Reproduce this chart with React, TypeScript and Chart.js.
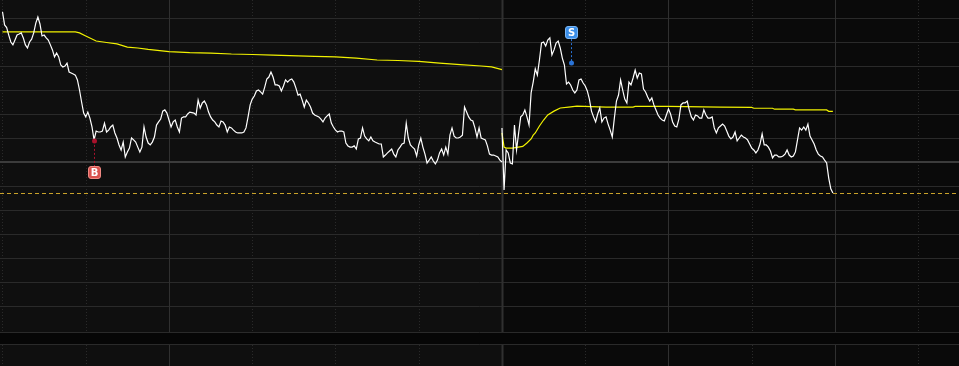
import React, { useEffect, useRef } from "react";
import { Chart, registerables } from "chart.js";

Chart.register(...registerables);

const W = 959;
const H = 366;

// Day 1 intraday % change vs previous close, one value per minute (0..240)
const day1Pct = [
  6.26, 5.71, 5.6, 5.29, 5.0, 4.88, 5.08, 5.29, 5.33, 5.38,
  5.17, 4.88, 4.75, 5.0, 5.12, 5.38, 5.79, 6.04, 5.75, 5.25,
  5.29, 5.17, 5.08, 4.88, 4.67, 4.38, 4.54, 4.38, 4.04, 3.96,
  4.0, 4.12, 3.75, 3.71, 3.67, 3.62, 3.42, 3.0, 2.5, 2.04,
  1.88, 2.08, 1.83, 1.46, 0.92, 1.29, 1.25, 1.25, 1.29, 1.62,
  1.25, 1.33, 1.46, 1.54, 1.21, 1.0, 0.71, 0.5, 0.83, 0.21,
  0.42, 0.58, 1.0, 0.92, 0.83, 0.62, 0.42, 0.62, 1.46, 1.04,
  0.79, 0.71, 0.83, 1.04, 1.54, 1.67, 1.79, 2.12, 2.17, 2.04,
  1.75, 1.46, 1.67, 1.75, 1.46, 1.25, 1.83, 1.88, 1.88, 2.0,
  2.08, 2.06, 2.04, 1.96, 2.58, 2.25, 2.46, 2.54, 2.38, 2.08,
  1.88, 1.75, 1.67, 1.54, 1.46, 1.71, 1.67, 1.54, 1.25, 1.46,
  1.42, 1.33, 1.25, 1.21, 1.21, 1.21, 1.25, 1.42, 1.88, 2.38,
  2.62, 2.75, 2.96, 3.0, 2.92, 2.83, 3.12, 3.46, 3.54, 3.75,
  3.54, 3.21, 3.21, 3.17, 2.96, 3.17, 3.42, 3.33, 3.42, 3.46,
  3.33, 3.08, 2.79, 2.83, 2.58, 2.29, 2.58, 2.46, 2.29, 2.04,
  1.96, 1.92, 1.88, 1.79, 1.67, 1.83, 1.92, 2.0, 1.62, 1.46,
  1.33, 1.25, 1.29, 1.29, 1.25, 0.79, 0.67, 0.62, 0.62, 0.67,
  0.54, 0.96, 1.0, 1.42, 1.08, 0.96, 0.88, 1.04, 0.88, 0.83,
  0.79, 0.75, 0.75, 0.21, 0.29, 0.38, 0.46, 0.54, 0.33, 0.21,
  0.5, 0.62, 0.75, 0.79, 1.62, 1.0, 0.71, 0.62, 0.54, 0.25,
  0.71, 1.0, 0.62, 0.33, -0.04, 0.08, 0.21, 0.04, -0.08, 0.08,
  0.38, 0.54, 0.29, 0.62, 0.33, 1.12, 1.42, 1.08, 1.0, 1.0,
  1.04, 1.12, 2.29, 2.08, 1.88, 1.75, 1.71, 1.42, 1.04, 1.42,
  1.0, 0.96, 0.92, 0.67, 0.33, 0.29, 0.29, 0.25, 0.21, 0.08,
  0.0,
];

// Day 2 intraday % change, one value per minute (0..159)
const day2Pct = [
  1.42, -1.17, 0.5, 0.38, -0.04, -0.08, 1.54, 0.5, 1.21, 1.88,
  1.96, 2.17, 1.88, 1.54, 2.88, 3.33, 3.88, 3.62, 4.25, 4.96,
  5.0, 4.83, 5.08, 5.17, 4.46, 4.67, 4.96, 5.04, 4.75, 4.33,
  4.04, 3.25, 3.33, 3.21, 3.0, 2.88, 3.0, 3.42, 3.46, 3.29,
  3.17, 2.96, 2.62, 2.12, 1.88, 1.67, 2.0, 2.25, 1.67, 1.83,
  1.88, 1.58, 1.33, 1.04, 1.83, 2.54, 2.79, 3.42, 3.0, 2.62,
  2.46, 3.33, 3.21, 3.5, 3.83, 3.5, 3.71, 3.67, 3.04, 2.92,
  2.71, 2.54, 2.67, 2.38, 2.17, 1.96, 1.83, 1.75, 1.71, 1.96,
  2.21, 2.0, 1.67, 1.5, 1.46, 1.79, 2.38, 2.46, 2.46, 2.54,
  2.17, 1.88, 1.75, 1.96, 1.92, 1.83, 1.83, 2.17, 1.96, 1.83,
  1.83, 1.88, 1.42, 1.21, 1.42, 1.5, 1.58, 1.5, 1.29, 1.08,
  0.96, 1.04, 1.25, 0.88, 1.0, 1.12, 1.04, 1.0, 0.92, 0.75,
  0.58, 0.5, 0.38, 0.5, 0.75, 1.17, 0.71, 0.71, 0.62, 0.46,
  0.17, 0.29, 0.29, 0.21, 0.21, 0.25, 0.33, 0.5, 0.29, 0.21,
  0.25, 0.42, 0.92, 1.42, 1.33, 1.46, 1.33, 1.58, 1.08, 0.92,
  0.75, 0.5, 0.33, 0.25, 0.21, 0.08, -0.04, -0.67, -1.12, -1.29,
];

// Moving average (yellow), sampled minutes and values
const ma1Minutes = [0, 35, 37, 40, 45, 50, 55, 60, 65, 70, 80, 90, 100, 110, 120, 130, 150, 160, 170, 180, 190, 200, 210, 220, 230, 235, 240];
const ma1Pct = [5.42, 5.42, 5.38, 5.25, 5.04, 4.98, 4.92, 4.79, 4.75, 4.69, 4.6, 4.56, 4.54, 4.5, 4.48, 4.45, 4.4, 4.38, 4.33, 4.25, 4.23, 4.19, 4.12, 4.06, 4.0, 3.96, 3.85];
const ma2Minutes = [0, 1, 2, 5, 10, 12, 14, 15, 16, 18, 20, 22, 25, 28, 32, 36, 50, 63, 64, 80, 105, 120, 121, 130, 131, 140, 141, 156, 157, 159];
const ma2Pct = [1.21, 0.62, 0.58, 0.58, 0.65, 0.79, 0.96, 1.12, 1.21, 1.5, 1.75, 1.96, 2.12, 2.25, 2.29, 2.33, 2.29, 2.29, 2.32, 2.32, 2.29, 2.28, 2.24, 2.24, 2.2, 2.2, 2.17, 2.17, 2.11, 2.11];

const sessionMinutes = 240;
const xMin = -1.2;
const xMax = 459.6;
const yMin = -7.083;
const yMax = 6.75;

const gridMinutes = [0, 40, 80, 120, 160, 200, 240, 280, 320, 360, 400, 440];
const solidGridMinutes = [80, 320, 400];
const gridPcts = [-6, -5, -4, -3, -2, -1, 1, 2, 3, 4, 5, 6];
const prevClosePct = 0;

const signalMinutes = [44, 273];
const signalPcts = [0.88, 4.12];
const signalLabels = ["B", "S"];

const gridPlugin = {
  id: "tradingBg",
  beforeDatasetsDraw(chart: any) {
    const { ctx, chartArea, scales } = chart;
    const x = scales.x;
    const y = scales.y;
    const sep = Math.round(x.getPixelForValue(sessionMinutes));
    const mainBottom = Math.round(chartArea.bottom);
    ctx.save();
    ctx.fillStyle = "#0f0f0f";
    ctx.fillRect(0, 0, sep, H);
    ctx.fillStyle = "#0a0a0a";
    ctx.fillRect(sep, 0, W - sep, H);
    ctx.fillStyle = "#060606";
    ctx.fillRect(0, mainBottom, W, 12);

    // horizontal grid
    ctx.lineWidth = 1;
    ctx.strokeStyle = "#2a2a2a";
    gridPcts.forEach((p) => {
      const py = Math.round(y.getPixelForValue(p)) + 0.5;
      ctx.beginPath();
      ctx.moveTo(0, py);
      ctx.lineTo(W, py);
      ctx.stroke();
    });
    // band borders
    [mainBottom + 0.5, mainBottom + 12.5].forEach((py) => {
      ctx.beginPath();
      ctx.moveTo(0, py);
      ctx.lineTo(W, py);
      ctx.stroke();
    });

    // vertical grid
    gridMinutes.forEach((m) => {
      const px = Math.round(x.getPixelForValue(m)) + 0.5;
      const solid = solidGridMinutes.includes(m) || m === sessionMinutes;
      ctx.strokeStyle = solid ? "#303030" : "#2a2a2a";
      ctx.lineWidth = m === sessionMinutes ? 2 : 1;
      ctx.setLineDash(solid ? [] : [1, 2]);
      const segs = [[0, mainBottom], [mainBottom + 13, H]];
      segs.forEach(([a, b]) => {
        ctx.beginPath();
        ctx.moveTo(px, a);
        ctx.lineTo(px, b);
        ctx.stroke();
      });
    });
    ctx.setLineDash([]);

    // previous close line
    const pc = Math.round(y.getPixelForValue(prevClosePct));
    ctx.strokeStyle = "#3c3c3c";
    ctx.lineWidth = 2;
    ctx.beginPath();
    ctx.moveTo(0, pc);
    ctx.lineTo(W, pc);
    ctx.stroke();

    // last price dashed line
    const last = day2Pct[day2Pct.length - 1];
    const lp = Math.round(y.getPixelForValue(last)) + 0.5;
    ctx.strokeStyle = "#c9a22a";
    ctx.lineWidth = 1;
    ctx.setLineDash([4, 3]);
    ctx.beginPath();
    ctx.moveTo(0, lp);
    ctx.lineTo(W, lp);
    ctx.stroke();
    ctx.setLineDash([]);
    ctx.restore();
  },
  afterDatasetsDraw(chart: any) {
    const { ctx, scales } = chart;
    const x = scales.x;
    const y = scales.y;
    ctx.save();
    signalMinutes.forEach((m, i) => {
      const px = Math.round(x.getPixelForValue(m)) + 0.5;
      const py = y.getPixelForValue(signalPcts[i]);
      const isBuy = signalLabels[i] === "B";
      const dotColor = isBuy ? "#a8122c" : "#2a73d6";
      const boxFill = isBuy ? "#d9534f" : "#3a8ee8";
      const boxStroke = isBuy ? "#f08a84" : "#7ab6f5";
      const boxTop = isBuy ? py + 25 : py - 37;
      const size = 13;
      // connector
      ctx.strokeStyle = dotColor;
      ctx.lineWidth = 1;
      ctx.setLineDash([2, 2]);
      ctx.beginPath();
      if (isBuy) {
        ctx.moveTo(px, py);
        ctx.lineTo(px, boxTop);
      } else {
        ctx.moveTo(px, boxTop + size);
        ctx.lineTo(px, py);
      }
      ctx.stroke();
      ctx.setLineDash([]);
      // dot
      ctx.fillStyle = dotColor;
      ctx.beginPath();
      ctx.arc(px, py, 2.5, 0, Math.PI * 2);
      ctx.fill();
      // box
      const bx = Math.round(px - size / 2) + 0.5;
      const by = Math.round(boxTop) + 0.5;
      ctx.fillStyle = boxFill;
      ctx.strokeStyle = boxStroke;
      ctx.beginPath();
      (ctx as any).roundRect(bx, by, size - 1, size - 1, 2.5);
      ctx.fill();
      ctx.stroke();
      ctx.fillStyle = "#ffffff";
      ctx.font = "bold 10px 'DejaVu Sans', sans-serif";
      ctx.textAlign = "center";
      ctx.textBaseline = "middle";
      ctx.fillText(signalLabels[i], bx + (size - 1) / 2, by + (size - 1) / 2 + 0.5);
    });
    ctx.restore();
  },
};

export default function App() {
  const ref = useRef<HTMLCanvasElement | null>(null);
  useEffect(() => {
    if (!ref.current) return;
    const d1 = day1Pct.map((v, i) => ({ x: i, y: v }));
    const d2 = day2Pct.map((v, i) => ({ x: sessionMinutes + i, y: v }));
    const m1 = ma1Minutes.map((m, i) => ({ x: m, y: ma1Pct[i] }));
    const m2 = ma2Minutes.map((m, i) => ({ x: sessionMinutes + m, y: ma2Pct[i] }));
    const lineBase = { pointRadius: 0, tension: 0, fill: false, borderJoinStyle: "miter" as const };
    const chart = new Chart(ref.current, {
      type: "line",
      data: {
        datasets: [
          { ...lineBase, data: d1, borderColor: "#ffffff", borderWidth: 1.2 },
          { ...lineBase, data: d2, borderColor: "#ffffff", borderWidth: 1.2 },
          { ...lineBase, data: m1, borderColor: "#f2f200", borderWidth: 1.2 },
          { ...lineBase, data: m2, borderColor: "#f2f200", borderWidth: 1.2 },
        ],
      },
      options: {
        animation: false,
        responsive: false,
        devicePixelRatio: 1,
        layout: { padding: { left: 0, right: 0, top: 0, bottom: 34 } },
        scales: {
          x: { type: "linear", min: xMin, max: xMax, display: false },
          y: { type: "linear", min: yMin, max: yMax, display: false },
        },
        plugins: { legend: { display: false }, tooltip: { enabled: false } },
        events: [],
      },
      plugins: [gridPlugin],
    });
    return () => chart.destroy();
  }, []);
  return (
    <div style={{ position: "absolute", left: 0, top: 0, width: W, height: H, background: "#0a0a0a" }}>
      <canvas ref={ref} width={W} height={H} style={{ display: "block", width: W, height: H }} />
    </div>
  );
}
